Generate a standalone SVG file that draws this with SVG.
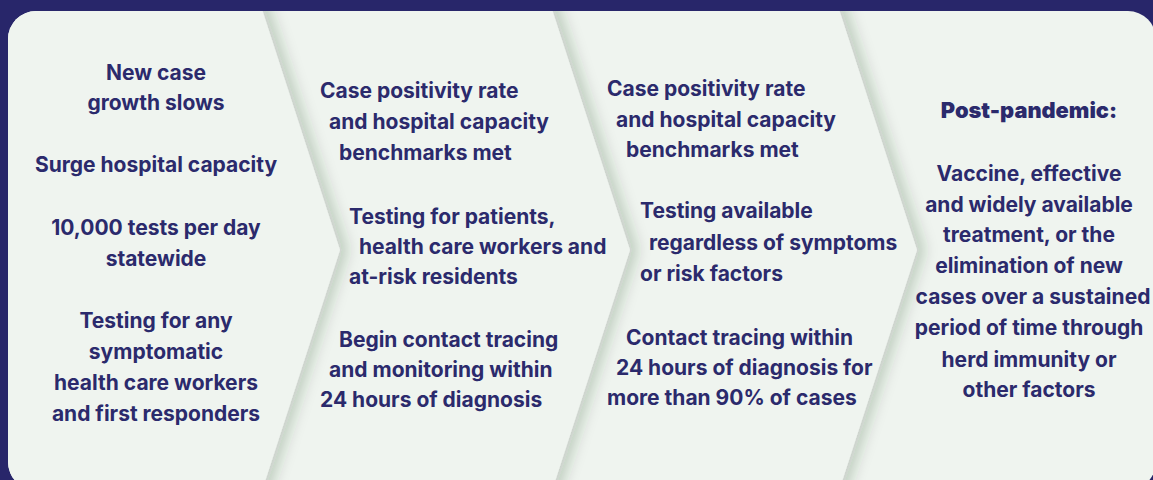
<svg xmlns="http://www.w3.org/2000/svg" width="1153" height="480" viewBox="0 0 1153 480">
  <style>
    .t { font-family: Inter, "Open Sans", "Liberation Sans", sans-serif; font-weight: 700; font-size: 21px; fill: #2b2a6c; }
    .c { text-anchor: middle; }
    .h { font-weight: 900; font-size: 21.8px; }
    .panel { fill: #eff4ef; }
  </style>
  <defs>
    <clipPath id="card">
      <rect x="8" y="11" width="1148" height="479" rx="28" ry="28"/>
    </clipPath>
    <filter id="shadow" filterUnits="userSpaceOnUse" x="-100" y="-100" width="1400" height="700">
      <feGaussianBlur in="SourceAlpha" stdDeviation="7"/>
      <feOffset dx="8" dy="0" result="b"/>
      <feFlood flood-color="#1e3a1e" flood-opacity="0.2"/>
      <feComposite in2="b" operator="in" result="s"/>
      <feMerge>
        <feMergeNode in="s"/>
        <feMergeNode in="SourceGraphic"/>
      </feMerge>
    </filter>
  </defs>
  <rect x="0" y="0" width="1153" height="480" fill="#28266a"/>
  <g clip-path="url(#card)">
    <g id="node-4">
      <rect class="panel" x="0" y="0" width="1200" height="520"/>
      <text class="t c h" x="1029" y="118">Post-pandemic:</text>
      <text class="t c" x="1029" y="181">Vaccine, effective</text>
      <text class="t c" x="1029" y="212">and widely available</text>
      <text class="t c" x="1029" y="242">treatment, or the</text>
      <text class="t c" x="1029" y="273">elimination of new</text>
      <text class="t c" x="1033" y="304">cases over a sustained</text>
      <text class="t c" x="1029" y="335">period of time through</text>
      <text class="t c" x="1029" y="367">herd immunity or</text>
      <text class="t c" x="1029" y="397">other factors</text>
    </g>
    <g id="node-3">
      <polygon class="panel" filter="url(#shadow)" points="549,0 630,250 549,500 836,500 917,250 836,0"/>
      <text class="t" x="607" y="96">Case positivity rate</text>
      <text class="t" x="616" y="127">and hospital capacity</text>
      <text class="t" x="626" y="157">benchmarks met</text>
      <text class="t" x="640" y="218">Testing available</text>
      <text class="t" x="649" y="250">regardless of symptoms</text>
      <text class="t" x="640" y="281">or risk factors</text>
      <text class="t" x="626" y="345">Contact tracing within</text>
      <text class="t" x="616" y="375">24 hours of diagnosis for</text>
      <text class="t" x="607" y="405">more than 90% of cases</text>
    </g>
    <g id="node-2">
      <polygon class="panel" filter="url(#shadow)" points="259,0 340,250 259,500 549,500 630,250 549,0"/>
      <text class="t" x="320" y="98">Case positivity rate</text>
      <text class="t" x="329" y="129">and hospital capacity</text>
      <text class="t" x="339" y="160">benchmarks met</text>
      <text class="t" x="349" y="224">Testing for patients,</text>
      <text class="t" x="359" y="254">health care workers and</text>
      <text class="t" x="349" y="284">at-risk residents</text>
      <text class="t" x="339" y="347">Begin contact tracing</text>
      <text class="t" x="329" y="377">and monitoring within</text>
      <text class="t" x="320" y="407">24 hours of diagnosis</text>
    </g>
    <g id="node-1">
      <polygon class="panel" filter="url(#shadow)" points="-20,0 259,0 340,250 259,500 -20,500"/>
      <text class="t c" x="156" y="80">New case</text>
      <text class="t c" x="156" y="110">growth slows</text>
      <text class="t c" x="156" y="172">Surge hospital capacity</text>
      <text class="t c" x="156" y="235">10,000 tests per day</text>
      <text class="t c" x="156" y="266">statewide</text>
      <text class="t c" x="156" y="328">Testing for any</text>
      <text class="t c" x="156" y="359">symptomatic</text>
      <text class="t c" x="156" y="390">health care workers</text>
      <text class="t c" x="156" y="421">and first responders</text>
    </g>
  </g>
</svg>
